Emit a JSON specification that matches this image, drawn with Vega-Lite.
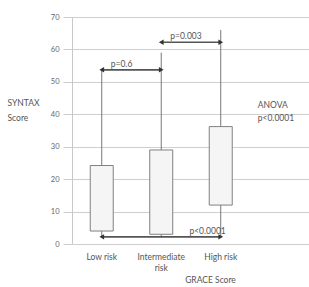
{
  "$schema": "https://vega.github.io/schema/vega-lite/v6.json",
  "autosize": "none",
  "width": 237,
  "height": 227,
  "padding": {"left": 72, "top": 17, "right": 0, "bottom": 43},
  "background": "white",
  "config": {
    "view": {"stroke": null},
    "font": "Lato",
    "text": {"font": "Lato", "color": "#555"},
    "axisX": {
      "title": "GRACE Score",
      "titleFont": "Lato",
      "titleFontSize": 8.5,
      "titleFontWeight": "normal",
      "titleColor": "#555",
      "titleX": 138,
      "titleY": 35,
      "titleBaseline": "middle",
      "labelAngle": 0,
      "labelFont": "Lato",
      "labelFontSize": 8.5,
      "labelColor": "#555",
      "labelPadding": 8,
      "labelLineHeight": 11,
      "ticks": false,
      "domain": false,
      "grid": false
    },
    "axisY": {
      "titleFont": "Lato",
      "titleFontSize": 8.5,
      "titleFontWeight": "normal",
      "titleColor": "#555",
      "titleAngle": 0,
      "titleAlign": "left",
      "titleBaseline": "middle",
      "titleLineHeight": 15,
      "titleX": -65,
      "titleY": 85,
      "labelFont": "Lato",
      "labelFontSize": 7.5,
      "labelColor": "#666",
      "labelPadding": 4,
      "tickSize": 9,
      "tickColor": "#ccc",
      "domainColor": "#c8c8c8",
      "gridColor": "#cfcfcf",
      "gridWidth": 1.2
    }
  },
  "datasets": {
    "boxes": [
      {"group": "Low risk", "min": 2, "q1": 4, "q3": 24.2, "max": 53.7},
      {"group": "Intermediate risk", "min": 2, "q1": 3, "q3": 29, "max": 59},
      {"group": "High risk", "min": 2.2, "q1": 12, "q3": 36.2, "max": 66}
    ],
    "tests": [
      {"group": "Low risk", "to": "Intermediate risk", "y": 53.7, "label": "p=0.6", "side": "left"},
      {"group": "Intermediate risk", "to": "High risk", "y": 62.2, "label": "p=0.003", "side": "left"},
      {"group": "Low risk", "to": "High risk", "y": 2.2, "label": "p<0.0001", "side": "right"}
    ],
    "anova": [
      {"group": "High risk", "y": 42.9, "text": "ANOVA"},
      {"group": "High risk", "y": 38.9, "text": "p<0.0001"}
    ]
  },
  "encoding": {
    "x": {
      "field": "group",
      "type": "nominal",
      "scale": {"type": "band", "domain": ["Low risk", "Intermediate risk", "High risk"], "paddingInner": 0, "paddingOuter": 0.4916, "align": 0},
      "axis": {
        "title": "GRACE Score",
        "labelExpr": "datum.value == 'Intermediate risk' ? ['Intermediate', 'risk'] : datum.value"
      }
    }
  },
  "layer": [
    {
      "data": {"name": "boxes"},
      "mark": {"type": "rule", "color": "#777", "strokeWidth": 1},
      "encoding": {
        "y": {
          "field": "min",
          "type": "quantitative",
          "scale": {"domain": [0, 70], "nice": false},
          "axis": {"title": ["SYNTAX", "Score"], "values": [0, 10, 20, 30, 40, 50, 60, 70]}
        },
        "y2": {"field": "max"}
      }
    },
    {
      "data": {"name": "boxes"},
      "mark": {"type": "bar", "size": 23, "fill": "#f5f5f5", "stroke": "#808080", "strokeWidth": 1},
      "encoding": {
        "y": {"field": "q1", "type": "quantitative", "axis": {"title": ["SYNTAX", "Score"], "values": [0, 10, 20, 30, 40, 50, 60, 70]}},
        "y2": {"field": "q3"}
      }
    },
    {
      "data": {"name": "tests"},
      "mark": {"type": "rule", "color": "#555", "strokeWidth": 1.6},
      "encoding": {
        "x2": {"field": "to"},
        "y": {"field": "y", "type": "quantitative", "axis": {"title": ["SYNTAX", "Score"], "values": [0, 10, 20, 30, 40, 50, 60, 70]}}
      }
    },
    {
      "data": {"name": "tests"},
      "mark": {"type": "point", "shape": "triangle-left", "filled": true, "color": "#333", "size": 30, "opacity": 1, "dx": -1},
      "encoding": {
        "y": {"field": "y", "type": "quantitative", "axis": {"title": ["SYNTAX", "Score"], "values": [0, 10, 20, 30, 40, 50, 60, 70]}}
      }
    },
    {
      "data": {"name": "tests"},
      "mark": {"type": "point", "shape": "triangle-right", "filled": true, "color": "#333", "size": 30, "opacity": 1, "dx": 2},
      "encoding": {
        "x": {"field": "to", "type": "nominal", "axis": {"title": "GRACE Score", "labelExpr": "datum.value == 'Intermediate risk' ? ['Intermediate', 'risk'] : datum.value"}},
        "y": {"field": "y", "type": "quantitative", "axis": {"title": ["SYNTAX", "Score"], "values": [0, 10, 20, 30, 40, 50, 60, 70]}}
      }
    },
    {
      "data": {"name": "tests"},
      "transform": [{"filter": "datum.side == 'left'"}],
      "mark": {"type": "text", "align": "left", "baseline": "alphabetic", "dx": 9, "dy": -3, "fontSize": 8.5},
      "encoding": {
        "y": {"field": "y", "type": "quantitative", "axis": {"title": ["SYNTAX", "Score"], "values": [0, 10, 20, 30, 40, 50, 60, 70]}},
        "text": {"field": "label"}
      }
    },
    {
      "data": {"name": "tests"},
      "transform": [{"filter": "datum.side == 'right'"}],
      "mark": {"type": "text", "align": "right", "baseline": "alphabetic", "dx": 5, "dy": -3, "fontSize": 8.5},
      "encoding": {
        "x": {"field": "to", "type": "nominal", "axis": {"title": "GRACE Score", "labelExpr": "datum.value == 'Intermediate risk' ? ['Intermediate', 'risk'] : datum.value"}},
        "y": {"field": "y", "type": "quantitative", "axis": {"title": ["SYNTAX", "Score"], "values": [0, 10, 20, 30, 40, 50, 60, 70]}},
        "text": {"field": "label"}
      }
    },
    {
      "data": {"name": "anova"},
      "mark": {"type": "text", "align": "left", "baseline": "middle", "dx": 37, "fontSize": 8.5},
      "encoding": {
        "y": {"field": "y", "type": "quantitative", "axis": {"title": ["SYNTAX", "Score"], "values": [0, 10, 20, 30, 40, 50, 60, 70]}},
        "text": {"field": "text"}
      }
    }
  ]
}
